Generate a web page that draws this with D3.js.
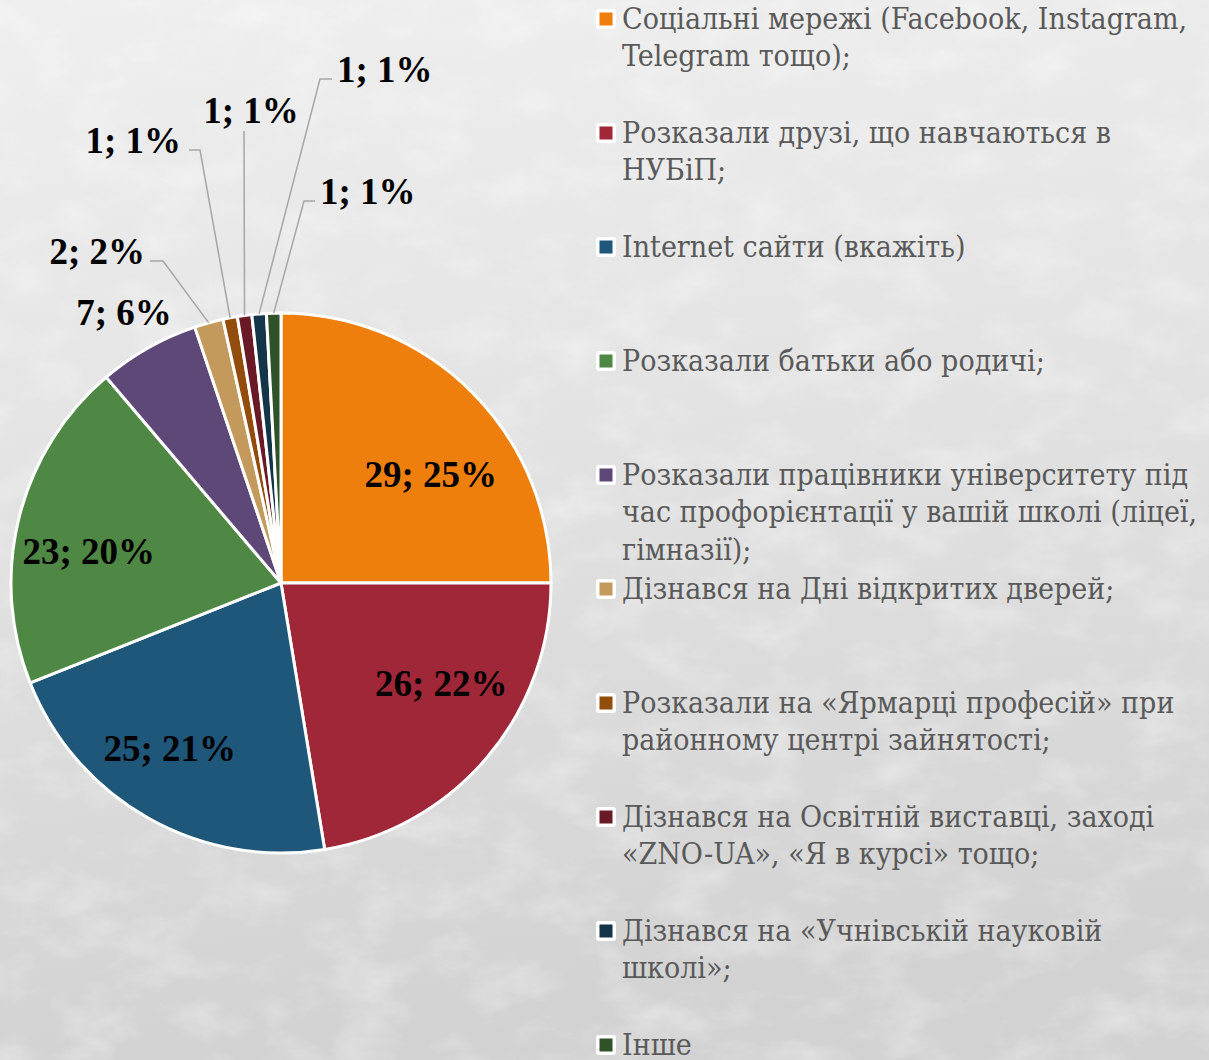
<!DOCTYPE html>
<html>
<head>
<meta charset="utf-8">
<script src="https://cdn.jsdelivr.net/npm/d3@7"></script>
<style>
  html, body { margin: 0; padding: 0; background: #e4e4e4; }
  svg { display: block; }
</style>
</head>
<body>
<div id="chart"></div>
<script>
// --- data ---
const categories = [
  "Соціальні мережі (Facebook, Instagram,\nTelegram тощо);",
  "Розказали друзі, що навчаються в\nНУБіП;",
  "Internet сайти (вкажіть)",
  "Розказали батьки або родичі;",
  "Розказали працівники університету під\nчас профорієнтації у вашій школі (ліцеї,\nгімназії);",
  "Дізнався на Дні відкритих дверей;",
  "Розказали на «Ярмарці професій» при\nрайонному центрі зайнятості;",
  "Дізнався на Освітній виставці, заході\n«ZNO-UA», «Я в курсі» тощо;",
  "Дізнався на «Учнівській науковій\nшколі»;",
  "Інше"
];
const counts = [29, 26, 25, 23, 7, 2, 1, 1, 1, 1];
const shares = ["25%", "22%", "21%", "20%", "6%", "2%", "1%", "1%", "1%", "1%"];
const colors = ["#ef7f0c", "#a02737", "#1e577a", "#4f8744", "#5e4878",
                "#c39a5b", "#924c0b", "#6a1a26", "#133449", "#2f5229"];

// --- layout ---
const width = 1209, height = 1060;
const cx = 281, cy = 583, R = 270;

// inside labels: [angle from top (deg), distance from centre]
const insideSpots = { 0: [54, 185], 1: [122, 189], 2: [214, 199], 3: [279.5, 195] };
// outside labels, relative to pie centre
const outsideSpots = {
  4: { text: [-157, -258], anchor: "middle" },
  5: { elbow: [-118, -322], end: [-131, -322], text: [-136, -319], anchor: "end" },
  6: { elbow: [-81, -433], end: [-92, -433], text: [-100, -430], anchor: "end" },
  7: { elbow: [-37, -452], end: [-37, -452], text: [-30, -460], anchor: "middle" },
  8: { elbow: [39, -504], end: [51, -504], text: [56, -501], anchor: "start" },
  9: { elbow: [23, -382], end: [34, -382], text: [39, -379], anchor: "start" }
};

const svg = d3.select("#chart").append("svg")
  .attr("width", width)
  .attr("height", height);

// background: light gray marble
const defs = svg.append("defs");
const grad = defs.append("linearGradient")
  .attr("id", "bg").attr("x1", 0).attr("y1", 0).attr("x2", 0.15).attr("y2", 1);
grad.append("stop").attr("offset", "0%").attr("stop-color", "#efefef");
grad.append("stop").attr("offset", "45%").attr("stop-color", "#e3e3e3");
grad.append("stop").attr("offset", "100%").attr("stop-color", "#d2d2d2");

const texture = defs.append("filter").attr("id", "marble")
  .attr("x", 0).attr("y", 0).attr("width", "100%").attr("height", "100%");
texture.append("feTurbulence")
  .attr("type", "fractalNoise").attr("baseFrequency", "0.015 0.025")
  .attr("numOctaves", 5).attr("seed", 7).attr("result", "noise");
texture.append("feColorMatrix").attr("in", "noise").attr("type", "matrix")
  .attr("values", "0 0 0 0 1  0 0 0 0 1  0 0 0 0 1  0 0 0 -1.8 1.0");

svg.append("rect").attr("width", width).attr("height", height).attr("fill", "url(#bg)");
svg.append("rect").attr("width", width).attr("height", height)
  .attr("filter", "url(#marble)").attr("opacity", 0.4);

// pie
const pie = d3.pie().sort(null).value(d => d);
const arcs = pie(counts);
const arc = d3.arc().innerRadius(0).outerRadius(R);
const rim = d3.arc().innerRadius(R).outerRadius(R);

const g = svg.append("g").attr("transform", `translate(${cx},${cy})`);

g.selectAll("path.slice")
  .data(arcs)
  .enter()
  .append("path")
    .attr("class", "slice")
    .attr("d", arc)
    .attr("fill", (d, i) => colors[i])
    .attr("stroke", "#ffffff")
    .attr("stroke-width", 3)
    .attr("stroke-linejoin", "round");

const labelText = i => `${counts[i]}; ${shares[i]}`;

// inside labels
Object.keys(insideSpots).forEach(k => {
  const i = +k;
  const a = insideSpots[k][0] * Math.PI / 180, r = insideSpots[k][1];
  g.append("text")
    .attr("x", r * Math.sin(a))
    .attr("y", -r * Math.cos(a))
    .attr("dy", "0.35em")
    .attr("text-anchor", "middle")
    .style("font-family", "'Liberation Serif', 'Times New Roman', serif")
    .style("font-weight", "bold")
    .style("font-size", "37px")
    .style("fill", "#000")
    .text(labelText(i));
});

// outside labels with leader lines
Object.keys(outsideSpots).forEach(k => {
  const i = +k, s = outsideSpots[k];
  if (s.elbow) {
    const p0 = rim.centroid(arcs[i]);
    g.append("polyline")
      .attr("points", [p0, s.elbow, s.end].map(p => p.join(",")).join(" "))
      .attr("fill", "none")
      .attr("stroke", "#a6a6a6")
      .attr("stroke-width", 1.5);
  }
  g.append("text")
    .attr("x", s.text[0])
    .attr("y", s.text[1])
    .attr("text-anchor", s.anchor)
    .style("font-family", "'Liberation Serif', 'Times New Roman', serif")
    .style("font-weight", "bold")
    .style("font-size", "37px")
    .style("fill", "#000")
    .text(labelText(i));
});

// legend
const legend = svg.append("g").attr("transform", "translate(596,0)");
const slot = 114, lineH = 37.3, firstY = 19;

const items = legend.selectAll("g.item")
  .data(categories)
  .enter()
  .append("g")
    .attr("class", "item")
    .attr("transform", (d, i) => `translate(0,${firstY + i * slot})`);

items.append("rect")
  .attr("x", 0).attr("y", -10).attr("width", 20).attr("height", 20)
  .attr("rx", 3)
  .attr("fill", "#ffffff");
items.append("rect")
  .attr("x", 3.5).attr("y", -6.5).attr("width", 13).attr("height", 13)
  .attr("fill", (d, i) => colors[i]);

const txt = items.append("text")
  .attr("x", 26)
  .attr("y", 10)
  .style("font-family", "'DejaVu Serif Condensed', 'DejaVu Serif', serif")
  .style("font-stretch", "condensed")
  .style("font-size", "30px")
  .style("fill", "#595959");

txt.selectAll("tspan")
  .data(d => d.split("\n"))
  .enter()
  .append("tspan")
    .attr("x", 26)
    .attr("dy", (d, j) => j === 0 ? 0 : lineH)
    .text(d => d);
</script>
</body>
</html>
